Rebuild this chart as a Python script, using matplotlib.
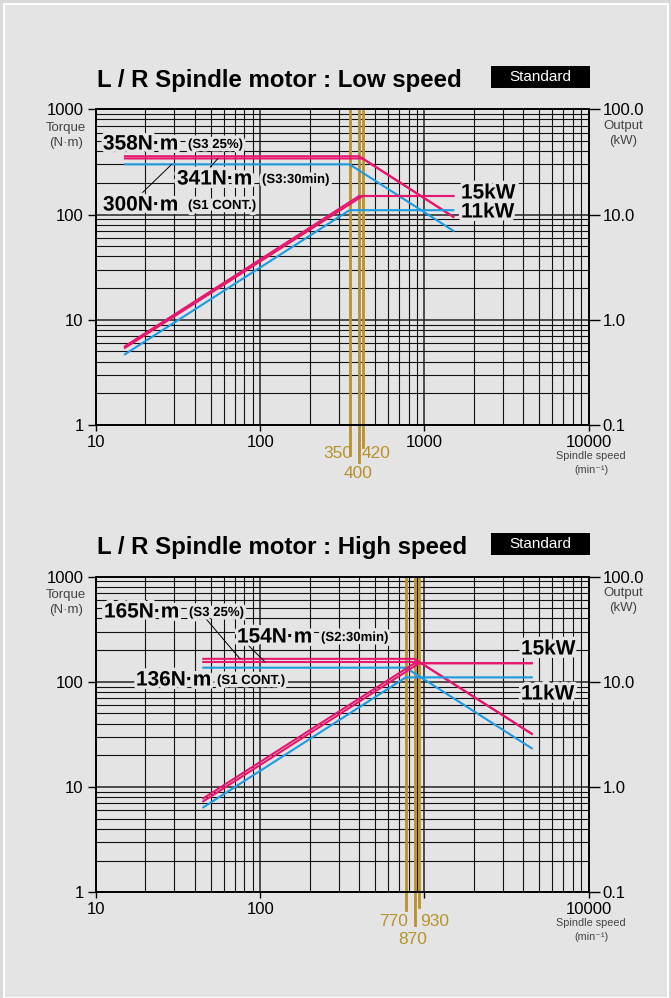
import matplotlib.pyplot as plt
import matplotlib.patheffects as pe
from matplotlib.patches import Rectangle

plt.rcParams['font.family'] = ['Liberation Sans', 'DejaVu Sans']

# ---- values ----
# Low speed winding (speed in min-1, torque in N·m, output in kW)
low_speed_s3 = [15, 400, 1500]
low_torque_s3 = [358, 358, 95]
low_power_s3 = [0.56, 15, 15]
low_speed_s330 = [15, 420, 1500]
low_torque_s330 = [341, 341, 95]
low_power_s330 = [0.54, 15, 15]
low_speed_s1 = [15, 350, 1500]
low_torque_s1 = [300, 300, 70]
low_power_s1 = [0.47, 11, 11]
low_base_speeds = [350, 400, 420]

# High speed winding
high_speed_s3 = [45, 870, 4500]
high_torque_s3 = [165, 165, 32]
high_power_s3 = [0.78, 15, 15]
high_speed_s2 = [45, 930, 4500]
high_torque_s2 = [154, 154, 32]
high_power_s2 = [0.73, 15, 15]
high_speed_s1 = [45, 770, 4500]
high_torque_s1 = [136, 136, 23.3]
high_power_s1 = [0.64, 11, 11]
high_base_speeds = [770, 870, 930]

x_ticks = [10, 100, 1000, 10000]
x_labels_low = ['10', '100', '1000', '10000']
x_labels_high = ['10', '100', '', '10000']   # 1000 is hidden by the base speed labels
torque_ticks = [1, 10, 100, 1000]
torque_labels = ['1', '10', '100', '1000']
power_ticks = [0.1, 1, 10, 100]
power_labels = ['0.1', '1.0', '10.0', '100.0']

MAGENTA = '#E5176F'
BLUE = '#1E9BE0'
GOLD = '#B8922E'
BG = '#E3E4E3'
GREY_TXT = '#444444'
LW = 1.5

W, H = 671, 998
fig = plt.figure(figsize=(W / 100, H / 100), dpi=100, facecolor='#D9D9D9')
fig.add_artist(Rectangle((4 / W, 0), 664 / W, 1 - 4 / H, transform=fig.transFigure,
                         facecolor=BG, edgecolor='white', lw=1.5, zorder=-10))

halo = [pe.withStroke(linewidth=5, foreground=BG)]


def ftext(x, y, s, **kw):
    # place text using pixel positions from the top-left corner
    kw.setdefault('va', 'center')
    return fig.text(x / W, 1 - y / H, s, **kw)


def setup_axes(top_px, xlabels):
    ax = fig.add_axes([96 / W, 1 - (top_px + 315.7) / H, 492.7 / W, 315.7 / H])
    ax.set_facecolor('none')
    ax.set_xscale('log')
    ax.set_yscale('log')
    ax.set_xlim(10, 10000)
    ax.set_ylim(1, 1000)
    ax.grid(which='major', color='#222222', lw=1.1)
    ax.grid(which='minor', color='#111111', lw=0.8)
    ax.set_xticks(x_ticks, xlabels)
    ax.set_yticks(torque_ticks, torque_labels)
    ax.tick_params(which='minor', length=0)
    ax.tick_params(axis='y', which='major', length=6, width=1, pad=3, labelsize=12)
    ax.tick_params(axis='x', which='major', length=4, width=1, pad=3, labelsize=12)
    ax2 = ax.twinx()
    ax2.set_yscale('log')
    ax2.set_ylim(0.1, 100)
    ax2.set_yticks(power_ticks, power_labels)
    ax2.tick_params(which='minor', length=0)
    ax2.tick_params(axis='y', which='major', length=8, width=1, pad=2, labelsize=12)
    for a in (ax, ax2):
        for s in a.spines.values():
            s.set_linewidth(1.2)
            s.set_color('black')
    return ax, ax2


def header(y_base, title):
    ftext(97, y_base, title, va='baseline', fontsize=17.3, fontweight='bold')
    fig.add_artist(Rectangle((491 / W, 1 - (y_base + 1.5) / H), 99 / W, 22 / H,
                             transform=fig.transFigure, facecolor='black', edgecolor='none'))
    ftext(540, y_base - 9.5, 'Standard', ha='center', color='white', fontsize=11)


def axis_names(dy):
    ftext(66, 128 + dy, 'Torque', ha='center', fontsize=9.5, color=GREY_TXT)
    ftext(66, 143 + dy, '(N·m)', ha='center', fontsize=9.5, color=GREY_TXT)
    ftext(623, 126 + dy, 'Output', ha='center', fontsize=9.5, color=GREY_TXT)
    ftext(623, 141 + dy, '(kW)', ha='center', fontsize=9.5, color=GREY_TXT)
    ftext(591, 456 + dy, 'Spindle speed', ha='center', fontsize=7.8, color=GREY_TXT)
    ftext(591, 470 + dy, '(min⁻¹)', ha='center', fontsize=7.8, color=GREY_TXT)


def torque_label(x, y, big, small, small_dx):
    ftext(x, y, big, fontsize=15, fontweight='bold', path_effects=halo)
    ftext(x + small_dx, y + 1, small, fontsize=9.5, fontweight='bold', path_effects=halo)


# ================= Low speed =================
header(86.7, 'L / R Spindle motor : Low speed')
ax, ax2 = setup_axes(109.3, x_labels_low)
axis_names(0)

for n, drop in zip(low_base_speeds, [30, 37, 22]):
    ax.axvline(n, ymin=-drop / 315.7, ymax=1, clip_on=False, color=GOLD, lw=2.0, zorder=2.5)
ftext(352, 453, '350', ha='right', fontsize=12.5, color=GOLD)
ftext(362, 453, '420', ha='left', fontsize=12.5, color=GOLD)
ftext(358, 473, '400', ha='center', fontsize=12.5, color=GOLD)

ax.plot(low_speed_s3, low_torque_s3, color=MAGENTA, lw=LW, zorder=3)
ax.plot(low_speed_s330, low_torque_s330, color=MAGENTA, lw=LW, zorder=3)
ax.plot(low_speed_s1, low_torque_s1, color=BLUE, lw=LW, zorder=3)
ax2.plot(low_speed_s3, low_power_s3, color=MAGENTA, lw=LW)
ax2.plot(low_speed_s330, low_power_s330, color=MAGENTA, lw=LW)
ax2.plot(low_speed_s1, low_power_s1, color=BLUE, lw=LW)

# leader lines
ax.plot([18.5, 28.9], [153, 300], color='black', lw=0.7, zorder=4)
ax.plot([47.2, 55.3], [259, 341], color='black', lw=0.7, zorder=4)

torque_label(103, 144, '358N·m', '(S3 25%)', 85)
torque_label(177, 179, '341N·m', '(S3:30min)', 85)
torque_label(103, 205, '300N·m', '(S1 CONT.)', 85)
ftext(461, 193, '15kW', fontsize=15, fontweight='bold', path_effects=halo)
ftext(461, 212, '11kW', fontsize=15, fontweight='bold', path_effects=halo)

# ================= High speed =================
dy = 467.2
header(86.7 + dy, 'L / R Spindle motor : High speed')
bx, bx2 = setup_axes(109.3 + dy, x_labels_high)
axis_names(dy)

for n, drop in zip(high_base_speeds, [18, 33, 15]):
    bx.axvline(n, ymin=-drop / 315.7, ymax=1, clip_on=False, color=GOLD, lw=2.0, zorder=2.5)
ftext(408, 921, '770', ha='right', fontsize=12.5, color=GOLD)
ftext(420, 921, '930', ha='left', fontsize=12.5, color=GOLD)
ftext(413, 940, '870', ha='center', fontsize=12.5, color=GOLD)

bx.plot(high_speed_s3, high_torque_s3, color=MAGENTA, lw=LW, zorder=3)
bx.plot(high_speed_s2, high_torque_s2, color=MAGENTA, lw=LW, zorder=3)
bx.plot(high_speed_s1, high_torque_s1, color=BLUE, lw=LW, zorder=3)
bx2.plot(high_speed_s3, high_power_s3, color=MAGENTA, lw=LW)
bx2.plot(high_speed_s2, high_power_s2, color=MAGENTA, lw=LW)
bx2.plot(high_speed_s1, high_power_s1, color=BLUE, lw=LW)

bx.plot([46.1, 75.3], [407, 165], color='black', lw=0.7, zorder=4)
bx.plot([84.3, 107], [223, 154], color='black', lw=0.7, zorder=4)

torque_label(104, 612, '165N·m', '(S3 25%)', 85)
torque_label(237, 637, '154N·m', '(S2:30min)', 84)
torque_label(136, 680, '136N·m', '(S1 CONT.)', 81)
ftext(521, 649, '15kW', fontsize=15, fontweight='bold', path_effects=halo)
ftext(521, 694, '11kW', fontsize=15, fontweight='bold', path_effects=halo)

fig.savefig('out.png', dpi=100, facecolor=fig.get_facecolor())
